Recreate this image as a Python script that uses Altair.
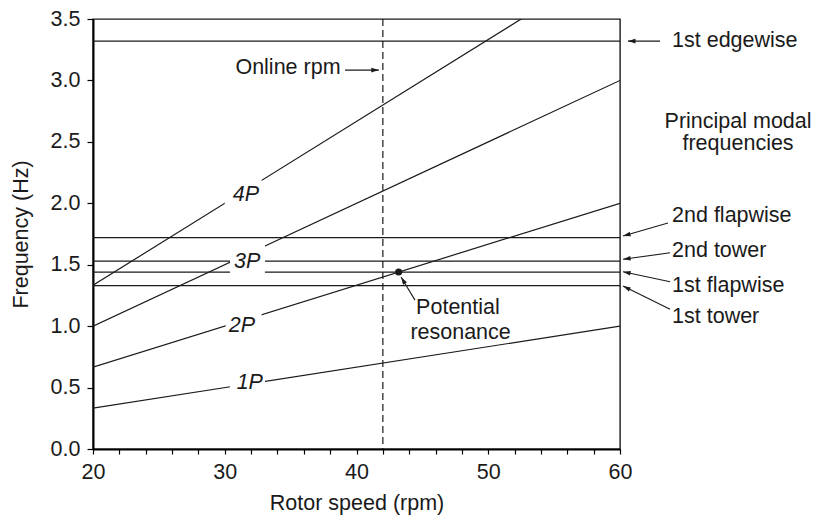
import math
import altair as alt
import pandas as pd

# ---------------- data ----------------
rpm_ends = [20, 60]
harmonics = ["1P", "2P", "3P", "4P"]
freq_at_20 = [0.333, 0.667, 1.0, 1.333]
freq_at_60 = [1.0, 2.0, 3.0, 4.0]

modes = ["1st edgewise", "2nd flapwise", "2nd tower", "1st flapwise", "1st tower"]
mode_freq = [3.32, 1.72, 1.53, 1.44, 1.33]

online_rpm = [42]
resonance_rpm = [43.2]
resonance_freq = [1.44]

x_ticks = list(range(20, 61, 2))
y_ticks = [0.0, 0.5, 1.0, 1.5, 2.0, 2.5, 3.0, 3.5]

# harmonic labels (in-line, italic) and gaps the label cuts in the lines
hl_x = [31.9, 31.3, 31.7, 31.6]
hl_y = [0.535, 1.0, 1.52, 2.07]
gap_x1 = [30.4, 30.07, 30.4, 30.0]
gap_x2 = [33.05, 32.8, 33.05, 32.8]
gap_y1 = [0.46, 0.92, 1.40, 1.95]
gap_y2 = [0.60, 1.10, 1.66, 2.21]

# right-hand mode labels and arrows
mode_label_x = 63.95
mode_label_y = [3.32, 1.896, 1.613, 1.326, 1.074]
mode_tail_x = [63.04, 63.64, 63.8, 63.8, 63.8]
mode_tail_y = [3.32, 1.839, 1.597, 1.361, 1.137]
mode_tip_x = [60.6, 60.23, 60.23, 60.23, 60.23]
mode_tip_y = [3.32, 1.733, 1.544, 1.443, 1.326]

# other annotations
note_text = ["Online rpm", "Potential", "resonance", "Principal modal", "frequencies"]
note_x = [34.8, 47.7, 47.9, 68.96, 68.96]
note_y = [3.10, 1.15, 0.946, 2.66, 2.48]
other_tail_x = [39.13, 44.44]
other_tail_y = [3.084, 1.212]
other_tip_x = [41.7, 43.38]
other_tip_y = [3.084, 1.40]

# ---------------- layout ----------------
W, H = 527, 430
XMIN, XMAX = 20, 60
YMIN, YMAX = 0, 3.5
PX_X = W / (XMAX - XMIN)
PX_Y = H / (YMAX - YMIN)
INK = "#1a1a1a"
FONT = "Liberation Sans"
FS = 21.5

# ---------------- tables ----------------
lines_df = pd.DataFrame(
    [{"h": h, "rpm": rpm_ends[0], "f": a} for h, a in zip(harmonics, freq_at_20)]
    + [{"h": h, "rpm": rpm_ends[1], "f": b} for h, b in zip(harmonics, freq_at_60)]
)
modes_df = pd.DataFrame({"mode": modes, "f": mode_freq})
gaps_df = pd.DataFrame({"x1": gap_x1, "x2": gap_x2, "y1": gap_y1, "y2": gap_y2})
hl_df = pd.DataFrame({"t": harmonics, "x": hl_x, "y": hl_y})
mode_lab_df = pd.DataFrame({"t": modes, "x": [mode_label_x] * len(modes), "y": mode_label_y})
note_df = pd.DataFrame({"t": note_text, "x": note_x, "y": note_y})

arrows = []
for tx, ty, px, py in zip(mode_tail_x + other_tail_x, mode_tail_y + other_tail_y,
                          mode_tip_x + other_tip_x, mode_tip_y + other_tip_y):
    dx = (px - tx) * PX_X
    dy = -(py - ty) * PX_Y
    ang = math.degrees(math.atan2(dx, -dy)) % 360
    arrows.append({"x1": tx, "y1": ty, "x2": px, "y2": py, "ang": ang})
arrows_df = pd.DataFrame(arrows)

res_df = pd.DataFrame({"x": resonance_rpm, "y": resonance_freq})
online_df = pd.DataFrame({"x": online_rpm})

xs = alt.Scale(domain=[XMIN, XMAX], nice=False, zero=False)
ys = alt.Scale(domain=[YMIN, YMAX], nice=False, zero=True)

x_axis = alt.Axis(
    values=x_ticks, labelExpr="datum.value % 10 === 0 ? datum.label : ''",
    format="d", tickSize=5, grid=False, labelFlush=False, labelOverlap=False,
    labelPadding=7, titlePadding=10, title="Rotor speed (rpm)",
)
y_axis = alt.Axis(
    values=y_ticks, format=".1f", tickSize=6, grid=False, labelFlush=False,
    labelOverlap=False, labelPadding=7, titlePadding=18, title="Frequency (Hz)",
)

def X(f):
    return alt.X(f, type="quantitative", scale=xs, axis=x_axis)

def Y(f):
    return alt.Y(f, type="quantitative", scale=ys, axis=y_axis)

mode_rules = alt.Chart(modes_df).mark_rule(color=INK, strokeWidth=1.2).encode(y=Y("f"))

harm_lines = alt.Chart(lines_df).mark_line(color=INK, strokeWidth=1.2, clip=True).encode(
    x=X("rpm"), y=Y("f"), detail="h:N"
)

online_rule = alt.Chart(online_df).mark_rule(
    color=INK, strokeWidth=1.2, strokeDash=[7, 4]
).encode(x=X("x"))

gaps = alt.Chart(gaps_df).mark_rect(color="white", opacity=1).encode(
    x=X("x1"), x2="x2", y=Y("y1"), y2="y2"
)

hl_text = alt.Chart(hl_df).mark_text(
    font=FONT, fontSize=FS, fontStyle="italic", color=INK, align="center", baseline="middle"
).encode(x=X("x"), y=Y("y"), text="t:N")

mode_text = alt.Chart(mode_lab_df).mark_text(
    font=FONT, fontSize=FS, color=INK, align="left", baseline="middle"
).encode(x=X("x"), y=Y("y"), text="t:N")

note_textm = alt.Chart(note_df).mark_text(
    font=FONT, fontSize=FS, color=INK, align="center", baseline="middle"
).encode(x=X("x"), y=Y("y"), text="t:N")

arrow_lines = alt.Chart(arrows_df).mark_rule(color=INK, strokeWidth=1.1).encode(
    x=X("x1"), y=Y("y1"), x2="x2", y2="y2"
)
arrow_heads = alt.Chart(arrows_df).mark_point(
    shape="M0,0L-0.3,1L0.3,1Z", filled=True, color=INK, size=230, opacity=1, strokeWidth=0
).encode(x=X("x2"), y=Y("y2"), angle=alt.Angle("ang:Q", scale=None))

res_point = alt.Chart(res_df).mark_point(
    shape="circle", filled=True, color=INK, size=50, opacity=1
).encode(x=X("x"), y=Y("y"))

chart = alt.layer(
    mode_rules, harm_lines, online_rule, gaps, hl_text, mode_text, note_textm,
    arrow_lines, arrow_heads, res_point,
).properties(
    width=W, height=H,
    background="white",
    autosize=alt.AutoSizeParams(type="none"),
    padding={"left": 85, "top": 11, "right": 195, "bottom": 68},
).configure_view(
    stroke=INK, strokeWidth=1.4
).configure_axis(
    domainColor="black", domainWidth=2, tickColor="black", tickWidth=1.2,
    labelFont=FONT, labelFontSize=FS, labelColor=INK,
    titleFont=FONT, titleFontSize=FS, titleFontWeight="normal", titleColor=INK,
)

chart.save("out.html", embed_options={"renderer": "svg", "actions": False})
